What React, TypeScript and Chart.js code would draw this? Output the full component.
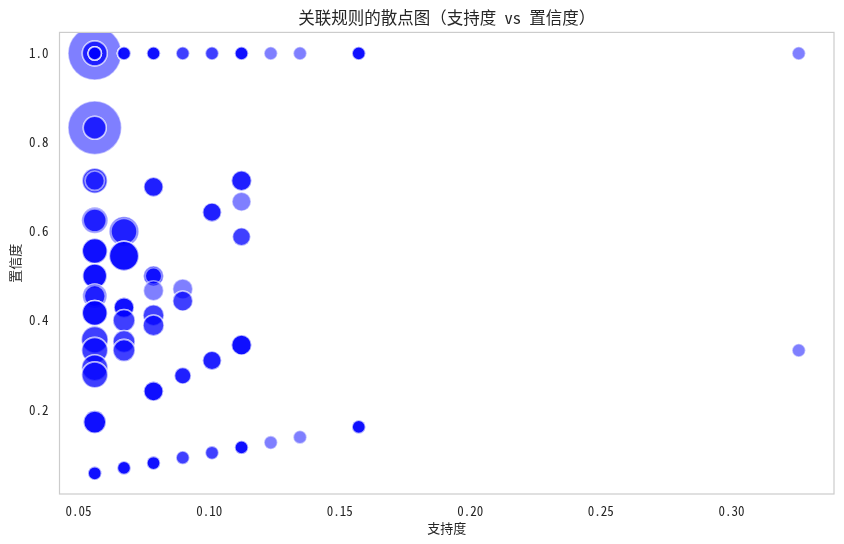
import React, { useEffect, useRef } from "react";
import { Chart, registerables } from "chart.js";

Chart.register(...registerables);

// Support levels (x) of the rules; each column holds the rules sharing that support.
const supportLevels = [0.0562, 0.0674, 0.0787, 0.0899, 0.1011, 0.1124, 0.1236, 0.1348, 0.1573, 0.3258];

// Confidence (y) of each rule, grouped by support level.
const confidenceByLevel: number[][] = [
  [1, 1, 1, 1, 1, 1, 1, 0.833, 0.833, 0.833, 0.714, 0.714, 0.714, 0.625, 0.625, 0.625,
   0.556, 0.556, 0.556, 0.556, 0.5, 0.5, 0.5, 0.5, 0.455, 0.455, 0.455,
   0.417, 0.417, 0.417, 0.417, 0.357, 0.357, 0.333, 0.333, 0.294, 0.294, 0.278, 0.278,
   0.172, 0.172, 0.172, 0.172, 0.057, 0.057, 0.057, 0.057],
  [1, 1, 1, 1, 0.6, 0.6, 0.6, 0.545, 0.545, 0.545, 0.545, 0.429, 0.429, 0.429, 0.429,
   0.4, 0.4, 0.353, 0.353, 0.333, 0.333, 0.069, 0.069, 0.069, 0.069],
  [1, 1, 1, 1, 0.7, 0.7, 0.7, 0.5, 0.5, 0.5, 0.5, 0.467, 0.412, 0.412, 0.389, 0.389,
   0.241, 0.241, 0.241, 0.241, 0.08, 0.08, 0.08, 0.08],
  [1, 1, 0.471, 0.444, 0.444, 0.276, 0.276, 0.276, 0.092, 0.092],
  [1, 1, 0.643, 0.643, 0.643, 0.31, 0.31, 0.31, 0.103, 0.103],
  [1, 1, 1, 1, 0.714, 0.714, 0.714, 0.667, 0.588, 0.588, 0.345, 0.345, 0.345, 0.345,
   0.115, 0.115, 0.115, 0.115],
  [1, 0.126],
  [1, 0.138],
  [1, 1, 1, 1, 0.161, 0.161, 0.161, 0.161],
  [1, 0.333],
];

// Lift of each rule (drives the marker size), same grouping as above.
const liftByLevel: number[][] = [
  [16.4, 3.59, 3.59, 1.023, 1.023, 1.023, 1.023, 16.4, 3.04, 3.04, 3.59, 3.59, 2.16, 3.88, 3.88, 3.04,
   3.59, 3.59, 3.59, 3.59, 3.31, 3.31, 3.31, 3.31, 3.31, 3.31, 2.53,
   3.59, 3.59, 3.59, 3.59, 4.06, 4.06, 3.88, 3.88, 3.88, 3.88, 3.88, 3.88,
   2.88, 2.88, 2.88, 2.88, 1.023, 1.023, 1.023, 1.023],
  [1.023, 1.023, 1.023, 1.023, 4.96, 4.96, 3.88, 4.96, 4.96, 4.96, 4.96, 2.3, 2.3, 2.3, 2.3,
   2.78, 2.78, 2.78, 2.78, 2.78, 2.78, 1.023, 1.023, 1.023, 1.023],
  [1.023, 1.023, 1.023, 1.023, 2.16, 2.16, 2.16, 2.3, 2.3, 2.3, 1.58, 2.3, 2.53, 2.53, 2.53, 2.53,
   2.16, 2.16, 2.16, 2.16, 1.023, 1.023, 1.023, 1.023],
  [1.023, 1.023, 2.3, 2.3, 2.3, 1.58, 1.58, 1.58, 1.023, 1.023],
  [1.023, 1.023, 1.99, 1.99, 1.99, 1.99, 1.99, 1.99, 1.023, 1.023],
  [1.023, 1.023, 1.023, 1.023, 2.3, 2.3, 2.3, 2.07, 1.86, 1.86, 2.3, 2.3, 2.3, 2.3,
   1.023, 1.023, 1.023, 1.023],
  [1.023, 1.023],
  [1.023, 1.023],
  [1.023, 1.023, 1.023, 1.023, 1.023, 1.023, 1.023, 1.023],
  [1.023, 1.023],
];

const xTickValues = [0.05, 0.1, 0.15, 0.2, 0.25, 0.3];
const yTickValues = [0.2, 0.4, 0.6, 0.8, 1.0];

const titleText = "关联规则的散点图（支持度 vs 置信度）";
const xLabel = "支持度";
const yLabel = "置信度";

const FONT = "'Noto Sans Mono CJK SC', 'Noto Sans CJK SC', 'DejaVu Sans', sans-serif";
const TEXT = "#262626";
const RADIUS_PER_SQRT_LIFT = 6.6;

export default function App() {
  const ref = useRef<HTMLCanvasElement>(null);

  useEffect(() => {
    if (!ref.current) return;
    const points: { x: number; y: number }[] = [];
    const lifts: number[] = [];
    supportLevels.forEach((s, i) => {
      confidenceByLevel[i].forEach((c, j) => {
        points.push({ x: s, y: c });
        lifts.push(liftByLevel[i][j]);
      });
    });

    const radius = (ctx: any) => RADIUS_PER_SQRT_LIFT * Math.sqrt(lifts[ctx.dataIndex] ?? 1);

    const frame = {
      id: "frame",
      afterDatasetsDraw(chart: any) {
        const { ctx, chartArea: a } = chart;
        ctx.save();
        ctx.strokeStyle = "#cccccc";
        ctx.lineWidth = 1.2;
        ctx.strokeRect(a.left, a.top, a.right - a.left, a.bottom - a.top);
        ctx.restore();
      },
    };

    const tickFont = { family: FONT, size: 13 };

    const chart = new Chart(ref.current, {
      type: "scatter",
      data: {
        datasets: [
          {
            data: points,
            backgroundColor: "rgba(0,0,255,0.5)",
            borderColor: "rgba(255,255,255,0.5)",
            borderWidth: 1.6,
            pointRadius: radius,
            pointHoverRadius: radius,
            clip: 0,
          } as any,
        ],
      },
      options: {
        animation: false,
        responsive: false,
        events: [],
        layout: { autoPadding: false, padding: { left: 0, right: 10, top: 0, bottom: 0 } },
        plugins: {
          legend: { display: false },
          tooltip: { enabled: false },
          title: {
            display: true,
            text: titleText,
            fullSize: false,
            color: TEXT,
            font: { family: FONT, size: 16.5, weight: "normal" },
            padding: { top: 7.8, bottom: 4.8 },
          },
        },
        scales: {
          x: {
            type: "linear",
            min: 0.0427,
            max: 0.3393,
            grid: { display: false, drawTicks: false },
            border: { display: false },
            afterBuildTicks: (s: any) => {
              s.ticks = xTickValues.map((v) => ({ value: v }));
            },
            afterFit: (s: any) => {
              s.height = 50;
              s.paddingLeft = 0;
              s.paddingRight = 0;
            },
            ticks: {
              autoSkip: false,
              maxRotation: 0,
              padding: 9,
              color: TEXT,
              font: tickFont,
              callback: (v: any) => Number(v).toFixed(2),
            },
            title: {
              display: true,
              text: xLabel,
              color: TEXT,
              font: tickFont,
              padding: { top: 0, bottom: 8.5 },
            },
          },
          y: {
            type: "linear",
            min: 0.0104,
            max: 1.0471,
            grid: { display: false, drawTicks: false },
            border: { display: false },
            afterBuildTicks: (s: any) => {
              s.ticks = yTickValues.map((v) => ({ value: v }));
            },
            afterFit: (s: any) => {
              s.width = 59.5;
              s.paddingTop = 0;
              s.paddingBottom = 0;
            },
            ticks: {
              autoSkip: false,
              padding: 11,
              color: TEXT,
              font: tickFont,
              callback: (v: any) => Number(v).toFixed(1),
            },
            title: {
              display: true,
              text: yLabel,
              color: TEXT,
              font: tickFont,
              padding: { top: 7, bottom: 0 },
            },
          },
        },
      } as any,
      plugins: [frame],
    });

    return () => chart.destroy();
  }, []);

  return (
    <canvas
      ref={ref}
      width={844}
      height={544}
      style={{ position: "absolute", left: 0, top: 0, display: "block", width: 844, height: 544 }}
    />
  );
}
